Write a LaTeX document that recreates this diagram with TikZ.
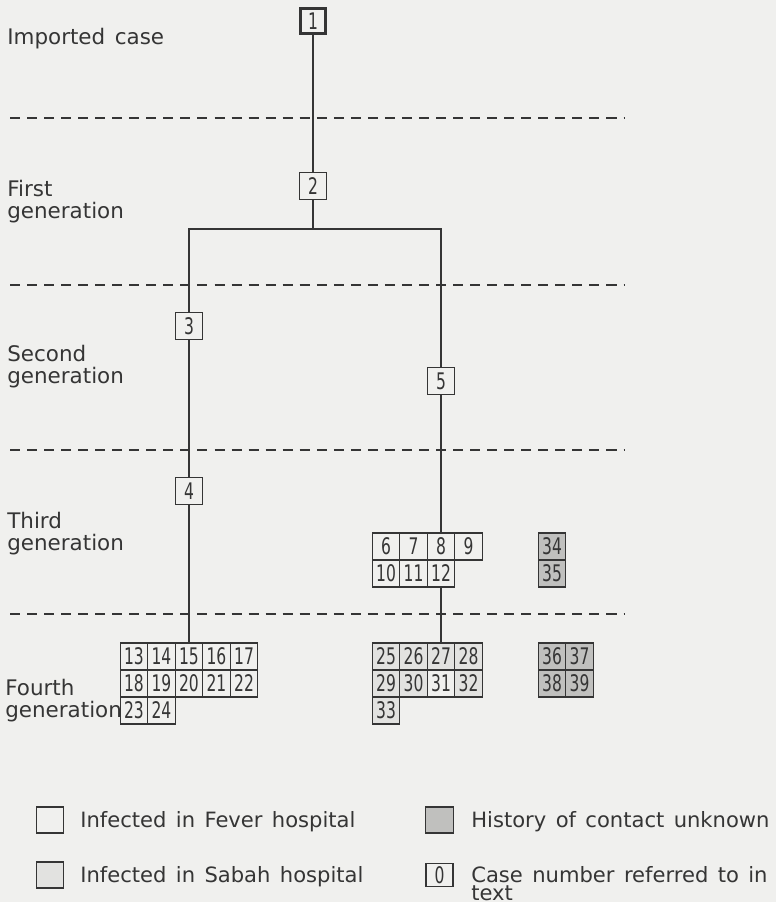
\documentclass[tikz,border=0pt]{standalone}
\usepackage{fontspec}
\setmainfont{DejaVu Sans}[WordSpace=1.4]
\newfontfamily\numfont{DejaVu Sans}[FakeStretch=0.68]
\usetikzlibrary{calc}
\definecolor{Paper}{HTML}{F0F0EE}
\definecolor{Ink}{HTML}{353535}
\definecolor{Sabah}{HTML}{E2E2E0}
\definecolor{Unknown}{HTML}{C0C0BE}

\begin{document}
\begin{tikzpicture}[x=0.02cm, y=-0.02cm,
    every node/.style={text=Ink},
    case/.style={draw=Ink, line width=0.7pt, minimum width=0.54cm,
                 minimum height=0.54cm, inner sep=0pt,
                 font=\numfont\fontsize{13}{13}\selectfont},
    cell/.style={draw=Ink, line width=0.6pt, minimum width=0.55cm,
                 minimum height=0.54cm, inner sep=0pt,
                 font=\numfont\fontsize{13}{13}\selectfont},
    sabah/.style={cell, fill=Sabah},
    unknown/.style={cell, fill=Unknown},
    gen/.style={anchor=base west, inner sep=0pt, align=left,
                font=\fontsize{12.2}{12.5}\selectfont},
    keytext/.style={gen, font=\fontsize{12}{12.5}\selectfont},
    link/.style={draw=Ink, line width=0.7pt},
    divider/.style={draw=Ink, line width=0.7pt, dash pattern=on 5.7pt off 4pt}]

    % Page
    \fill[Paper] (0,0) rectangle (776,902);
    \useasboundingbox (0,0) rectangle (776,902);

    % Generation dividers
    \foreach \y in {118,285,450,614}
        \draw[divider] (10,\y) -- (625,\y);

    % Generation labels (anchored at the last line)
    \node[gen] (imp)    at (7,45)  {Imported case};
    \node[gen] (first)  at (7,218) {First\\generation};
    \node[gen] (second) at (7,383) {Second\\generation};
    \node[gen] (third)  at (7,550) {Third\\generation};
    \node[gen] (fourth) at (5,717) {Fourth\\generation};

    % Cases referred to in text
    \node[case, line width=1.7pt, minimum width=0.51cm, minimum height=0.51cm] (n1) at (313,21) {1};
    \node[case] (n2) at (313,186) {2};
    \node[case] (n3) at (189,326) {3};
    \node[case] (n5) at (441,381) {5};
    \node[case] (n4) at (189,491) {4};

    % Third generation
    \foreach \n [count=\i from 0] in {6,...,12} {
        \pgfmathsetmacro\cx{386+27.5*mod(\i,4)}
        \pgfmathsetmacro\cy{546.5+27*int(\i/4)}
        \node[cell] (c\n) at (\cx,\cy) {\n};
    }
    \node[unknown] (c34) at (552,546.5) {34};
    \node[unknown] (c35) at (552,573.5) {35};

    % Fourth generation
    \foreach \n [count=\i from 0] in {13,...,24} {
        \pgfmathsetmacro\cx{134+27.5*mod(\i,5)}
        \pgfmathsetmacro\cy{656.5+27*int(\i/5)}
        \node[cell] (c\n) at (\cx,\cy) {\n};
    }
    \foreach \n/\s [count=\i from 0] in {25/sabah,26/sabah,27/sabah,28/sabah,
                                        29/sabah,30/sabah,31/cell,32/sabah,33/sabah} {
        \pgfmathsetmacro\cx{386+27.5*mod(\i,4)}
        \pgfmathsetmacro\cy{656.5+27*int(\i/4)}
        \node[\s] (c\n) at (\cx,\cy) {\n};
    }
    \foreach \n [count=\i from 0] in {36,...,39} {
        \pgfmathsetmacro\cx{552+27.5*mod(\i,2)}
        \pgfmathsetmacro\cy{656.5+27*int(\i/2)}
        \node[unknown] (c\n) at (\cx,\cy) {\n};
    }

    % Chains of infection
    \coordinate (fork) at (313,229);
    \draw[link] (n1) -- (n2);
    \draw[link] (n2) -- (fork);
    \draw[link] (n3) |- (fork) -| (n5);
    \draw[link] (n3) -- (n4);
    \draw[link] (n4) -- (c15);
    \draw[link] (n5) -- (c8);
    \draw[link] (c12) -- (c27);

    % Key
    \node[cell, minimum height=0.52cm] (k1) at (50,820) {};
    \node[sabah, minimum height=0.52cm] (k2) at (50,875) {};
    \node[unknown, minimum height=0.52cm] (k3) at (439.5,820) {};
    \node[case, minimum height=0.46cm] (k4) at (439.5,875) {0};
    \node[keytext] (t1) at (80,827)  {Infected in Fever hospital};
    \node[keytext] (t2) at (80,882)  {Infected in Sabah hospital};
    \node[keytext] (t3) at (471,827) {History of contact unknown};
    \node[keytext] (t4) at (471,900) {Case number referred to in\\[-2.3pt]text};
\end{tikzpicture}
\end{document}
